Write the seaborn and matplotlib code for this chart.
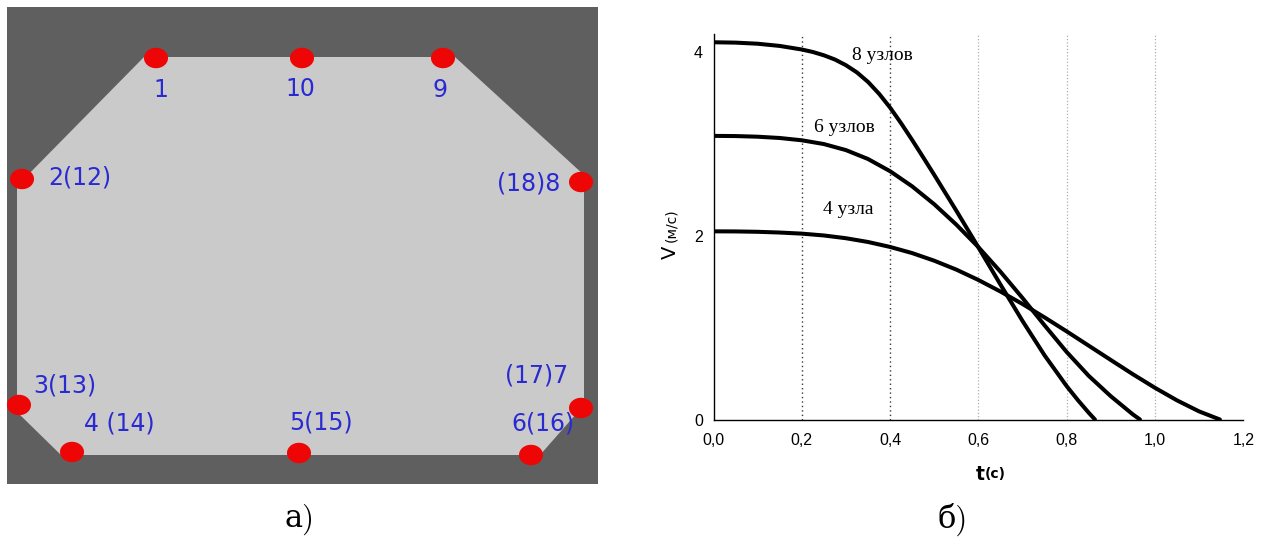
import numpy as np
import pandas as pd
import matplotlib
matplotlib.use("Agg")
import matplotlib.pyplot as plt
from matplotlib.path import Path
from matplotlib.ticker import FixedLocator, FuncFormatter
import seaborn as sns

# ---------------- panel а: node layout on the section contour ----------------
# contour of the section and node centres, in drawing units (pixels of the sketch)
contour_x = [144, 455, 584, 584, 540, 61, 17, 17]
contour_y = [57, 57, 175, 405, 455, 455, 412, 186]

node_id = ["1", "2", "3", "4", "5", "6", "7", "8", "9", "10"]
node_x = [156, 22, 19, 72, 299, 531, 581, 581, 443, 302]
node_y = [58, 179, 405, 452, 453, 455, 408, 182, 58, 58]

# node captions: text, left x, baseline y
node_text = ["1", "10", "9", "2(12)", "(18)8", "3(13)", "(17)7",
             "4 (14)", "5(15)", "6(16)"]
node_text_x = [153, 285, 432, 48.5, 497, 33, 505, 84, 289, 511]
node_text_y = [97, 96, 97, 184, 191, 392, 383, 431, 429.5, 431]

# ---------------- panel б: velocity versus time ----------------
t8 = [0.0, 0.05, 0.1, 0.15, 0.2, 0.225, 0.25, 0.275, 0.3, 0.325, 0.35, 0.375,
      0.4, 0.425, 0.45, 0.475, 0.5, 0.55, 0.6, 0.65, 0.7, 0.75, 0.8, 0.825,
      0.85, 0.864]
v8 = [4.11, 4.106, 4.094, 4.070, 4.031, 4.004, 3.968, 3.922, 3.860, 3.781,
      3.678, 3.549, 3.398, 3.227, 3.045, 2.856, 2.665, 2.275, 1.875, 1.470,
      1.073, 0.698, 0.363, 0.213, 0.073, 0.0]

t6 = [0.0, 0.05, 0.1, 0.15, 0.2, 0.25, 0.3, 0.35, 0.4, 0.45, 0.5, 0.55, 0.6,
      0.65, 0.7, 0.75, 0.8, 0.85, 0.9, 0.95, 0.966]
v6 = [3.09, 3.088, 3.081, 3.067, 3.042, 3.001, 2.935, 2.838, 2.705, 2.540,
      2.345, 2.123, 1.878, 1.610, 1.323, 1.025, 0.735, 0.475, 0.253, 0.055,
      0.0]

t4 = [0.0, 0.05, 0.1, 0.15, 0.2, 0.25, 0.3, 0.35, 0.4, 0.45, 0.5, 0.55, 0.6,
      0.65, 0.7, 0.75, 0.8, 0.85, 0.9, 0.95, 1.0, 1.05, 1.1, 1.147]
v4 = [2.05, 2.049, 2.045, 2.037, 2.025, 2.005, 1.975, 1.934, 1.880, 1.813,
      1.730, 1.633, 1.520, 1.394, 1.258, 1.112, 0.960, 0.804, 0.648, 0.493,
      0.345, 0.208, 0.088, 0.0]

curve_names = ["8 узлов", "6 узлов", "4 узла"]
curve_label_t = [0.314, 0.228, 0.249]
curve_label_v = [3.92, 3.13, 2.24]

x_major = [0.0, 0.2, 0.4, 0.6, 0.8, 1.0, 1.2]
x_minor = [0.1, 0.3, 0.5, 0.7, 0.9, 1.1]
y_major = [0, 2, 4]
y_minor = [1, 3]
dark_grid = [0.2, 0.4]
light_grid = [0.6, 0.8, 1.0]

# ---------------------------------------------------------------------------
sns.set_theme(style="white")
plt.rcParams["font.family"] = ["DejaVu Sans"]

W, H = 1263, 539
fig = plt.figure(figsize=(W / 100, H / 100), dpi=100)
fig.patch.set_facecolor("white")


def fx(px):
    return px / W


def fy(py):
    return 1 - py / H


# ---- panel а ----
ax1 = fig.add_axes([fx(7), fy(484), (598 - 7) / W, (484 - 7) / H])
ax1.set_facecolor("#5f5f5f")
ax1.set_xlim(7, 598)
ax1.set_ylim(484, 7)
ax1.fill(contour_x, contour_y, color="#cacaca", lw=0, zorder=1)

theta = np.linspace(0, 2 * np.pi, 60)
oval = Path(np.column_stack([np.cos(theta), 0.85 * np.sin(theta)]))
nodes = pd.DataFrame({"x": node_x, "y": node_y, "id": node_id})
sns.scatterplot(data=nodes, x="x", y="y", ax=ax1, marker=oval, s=300,
                color="#ee0606", edgecolor="none", linewidth=0, zorder=3,
                legend=False)
for txt, x, y in zip(node_text, node_text_x, node_text_y):
    ax1.text(x, y, txt, fontsize=17, color="#2a2ad2", ha="left",
             va="baseline", family="DejaVu Sans", zorder=4)
ax1.set_xticks([])
ax1.set_yticks([])
ax1.set_xlabel("")
ax1.set_ylabel("")
for sp in ax1.spines.values():
    sp.set_visible(False)

# ---- panel б ----
ax2 = fig.add_axes([fx(713.5), fy(419.5), (1243.3 - 713.5) / W,
                    (419.5 - 34) / H])
ax2.set_facecolor("white")

for g in dark_grid:
    ax2.axvline(g, color="#3a3a3a", lw=1.0, ls=(0, (1, 2.2)), zorder=1)
for g in light_grid:
    ax2.axvline(g, color="#b0b0b0", lw=0.9, ls=(0, (1, 1.6)), zorder=1)

for tt, vv in [(t8, v8), (t6, v6), (t4, v4)]:
    sns.lineplot(x=tt, y=vv, ax=ax2, color="black", lw=2.9, sort=False,
                 estimator=None, zorder=3)

for name, tx, ty in zip(curve_names, curve_label_t, curve_label_v):
    ax2.text(tx, ty, name, fontsize=14, family="Liberation Serif",
             color="black", ha="left", va="baseline")

ax2.set_xlim(0, 1.2)
ax2.set_ylim(0, 4.2)
ax2.xaxis.set_major_locator(FixedLocator(x_major))
ax2.xaxis.set_minor_locator(FixedLocator(x_minor))
ax2.yaxis.set_major_locator(FixedLocator(y_major))
ax2.yaxis.set_minor_locator(FixedLocator(y_minor))
ax2.xaxis.set_major_formatter(FuncFormatter(lambda v, p: f"{v:.1f}".replace(".", ",")))
ax2.yaxis.set_major_formatter(FuncFormatter(lambda v, p: f"{v:.0f}"))
ax2.tick_params(axis="both", which="major", direction="inout", length=8.6,
                width=1.0, color="black", labelsize=11.5, labelcolor="black")
ax2.tick_params(axis="both", which="minor", direction="inout", length=5,
                width=1.0, color="black")
ax2.tick_params(axis="x", which="major", pad=5.2)
ax2.tick_params(axis="y", which="major", pad=3.4)
for lab in ax2.get_xticklabels() + ax2.get_yticklabels():
    lab.set_family("Liberation Sans")
for side in ["top", "right"]:
    ax2.spines[side].set_visible(False)
for side in ["left", "bottom"]:
    ax2.spines[side].set_color("black")
    ax2.spines[side].set_linewidth(1.0)
ax2.set_xlabel("")
ax2.set_ylabel("")

# axis titles
fig.text(fx(670.5), fy(252.5), "V", rotation=90, fontsize=14,
         ha="center", va="center", family="DejaVu Sans", color="black")
fig.text(fx(671.5), fy(225.5), "(м/с)", rotation=90, fontsize=10,
         ha="center", va="center", family="DejaVu Sans", color="black")
fig.text(fx(976), fy(480), "t", fontsize=13.5, fontweight="bold",
         ha="left", va="baseline", family="DejaVu Sans", color="black")
fig.text(fx(985), fy(478), "(c)", fontsize=10, fontweight="bold",
         ha="left", va="baseline", family="DejaVu Sans", color="black")

# panel captions
fig.text(fx(300), fy(519), "а)", fontsize=22, ha="center", va="center",
         family=["cmr10", "DejaVu Serif"], color="black")
fig.text(fx(953), fy(519), "б)", fontsize=22, ha="center", va="center",
         family=["cmr10", "DejaVu Serif"], color="black")

fig.savefig("out.png", dpi=100, facecolor="white")
